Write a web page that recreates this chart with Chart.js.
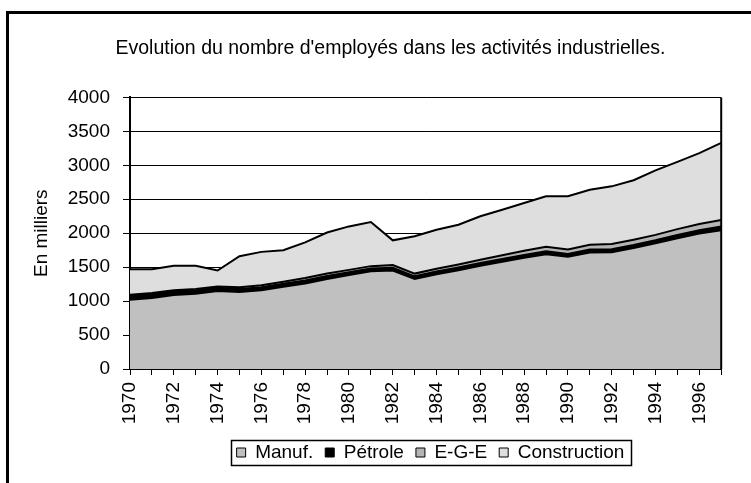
<!DOCTYPE html>
<html>
<head>
<meta charset="utf-8">
<script src="https://cdn.jsdelivr.net/npm/chart.js@4/dist/chart.umd.min.js"></script>
<style>
  html, body { margin: 0; padding: 0; background: #fff; }
  canvas { display: block; }
</style>
</head>
<body>
<canvas id="emploi" width="751" height="483"></canvas>
<script>
const years = [1970, 1971, 1972, 1973, 1974, 1975, 1976, 1977, 1978, 1979, 1980, 1981, 1982, 1983,
  1984, 1985, 1986, 1987, 1988, 1989, 1990, 1991, 1992, 1993, 1994, 1995, 1996, 1997];

// en milliers d'employés
const manuf = [1020, 1045, 1090, 1110, 1150, 1135, 1160, 1210, 1260, 1325, 1385, 1440, 1450, 1325,
  1395, 1455, 1520, 1580, 1640, 1690, 1655, 1715, 1720, 1780, 1850, 1925, 1995, 2045];
const petrole = [55, 55, 50, 50, 45, 45, 45, 45, 45, 45, 40, 40, 40, 40,
  40, 40, 40, 40, 40, 45, 40, 45, 45, 45, 45, 50, 50, 55];
const ege = [20, 20, 20, 20, 20, 25, 30, 30, 35, 35, 35, 35, 40, 40,
  40, 45, 50, 55, 60, 65, 65, 70, 75, 80, 80, 85, 90, 95];
const construction = [375, 350, 360, 340, 235, 455, 490, 465, 525, 605, 640, 650, 365, 550,
  575, 585, 640, 670, 705, 745, 785, 810, 850, 875, 950, 990, 1045, 1135];

const yTicks = [0, 500, 1000, 1500, 2000, 2500, 3000, 3500, 4000];

const FONT = 'Liberation Sans, Arial, sans-serif';

// cadre, fond et bord droit de la zone de tracé
const frame = {
  id: 'frame',
  afterLayout(chart) {
    // titre et légende décalés comme dans l'original
    chart.titleBlock.left += 20;
    chart.titleBlock.right += 20;
    chart.legend.left += 60;
    chart.legend.right += 60;
  },
  beforeDraw(chart) {
    const ctx = chart.ctx;
    ctx.save();
    ctx.fillStyle = '#fff';
    ctx.fillRect(0, 0, chart.width, chart.height);
    ctx.strokeStyle = '#000';
    ctx.lineWidth = 3;
    ctx.strokeRect(7.5, 12.5, 800, 600);
    ctx.restore();
  },
  afterDraw(chart) {
    const ctx = chart.ctx;
    const a = chart.chartArea;
    ctx.save();
    ctx.strokeStyle = '#000';
    ctx.lineWidth = 2;
    ctx.beginPath();
    ctx.moveTo(a.right, a.top);
    ctx.lineTo(a.right, a.bottom);
    ctx.stroke();
    // boite autour de la légende
    const boxes = chart.legend.legendHitBoxes;
    if (boxes.length) {
      const left = Math.min(...boxes.map(b => b.left)) - 6;
      const right = Math.max(...boxes.map(b => b.left + b.width)) + 6;
      const top = boxes[0].top - 3;
      const h = boxes[0].height + 6;
      ctx.lineWidth = 1.5;
      ctx.strokeRect(Math.round(left) + 0.5, Math.round(top) + 0.5, Math.round(right - left), Math.round(h));
    }
    ctx.restore();
  }
};

const ds = (label, data, color, fill) => ({
  label,
  data,
  backgroundColor: color,
  borderColor: '#000',
  borderWidth: 2,
  pointRadius: 0,
  tension: 0,
  fill
});

new Chart(document.getElementById('emploi'), {
  type: 'line',
  data: {
    labels: years,
    datasets: [
      ds('Manuf.', manuf, '#c0c0c0', 'origin'),
      ds('Pétrole', petrole, '#000000', '-1'),
      ds('E-G-E', ege, '#b4b4b4', '-1'),
      ds('Construction', construction, '#dedede', '-1')
    ]
  },
  options: {
    responsive: false,
    animation: false,
    layout: { padding: { left: 10, right: 20, top: 0, bottom: 11 } },
    plugins: {
      title: {
        display: true,
        text: "Evolution du nombre d'employés dans les activités industrielles.",
        color: '#000',
        font: { family: FONT, size: 19.5, weight: 'normal' },
        padding: { top: 37, bottom: 37 }
      },
      legend: {
        position: 'bottom',
        labels: {
          color: '#000',
          font: { family: FONT, size: 19 },
          boxWidth: 9,
          boxHeight: 9,
          padding: 12,
          generateLabels(chart) {
            return chart.data.datasets.map((d, i) => ({
              text: d.label,
              fillStyle: d.backgroundColor,
              strokeStyle: '#000',
              lineWidth: 1,
              fontColor: '#000',
              datasetIndex: i
            }));
          }
        }
      },
      tooltip: { enabled: false }
    },
    scales: {
      x: {
        offset: false,
        grid: { display: true, drawOnChartArea: false, drawTicks: true, tickLength: 6, color: '#000' },
        border: { display: true, color: '#000', width: 2 },
        ticks: {
          autoSkip: false,
          minRotation: 90,
          maxRotation: 90,
          padding: 7,
          color: '#000',
          font: { family: FONT, size: 19 },
          callback: (v, i) => (i % 2 === 0 ? String(years[i]) : '')
        },
        afterFit(scale) { scale.height = 62; }
      },
      y: {
        stacked: true,
        min: 0,
        max: 4000,
        afterBuildTicks(scale) { scale.ticks = yTicks.map(v => ({ value: v })); },
        grid: { color: '#000', lineWidth: 1, tickLength: 7 },
        border: { display: true, color: '#000', width: 2 },
        ticks: {
          padding: 13,
          color: '#000',
          font: { family: FONT, size: 19 },
          callback: v => String(v)
        },
        title: {
          display: true,
          text: 'En milliers',
          color: '#000',
          font: { family: FONT, size: 19 },
          padding: { top: 20, bottom: 0 }
        },
        afterFit(scale) { scale.width = 120; }
      }
    }
  },
  plugins: [frame]
});
</script>
</body>
</html>
